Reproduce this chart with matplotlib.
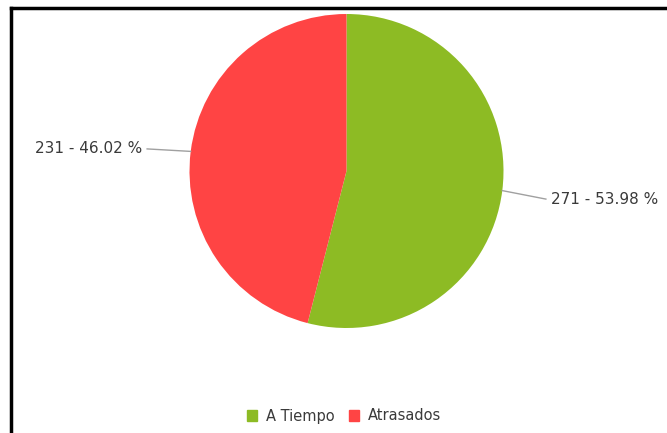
import matplotlib.pyplot as plt
from matplotlib.lines import Line2D
import numpy as np

categories = ["A Tiempo", "Atrasados"]
counts = [271, 231]
colors = ["#8dbb24", "#ff4444"]

W, H = 667, 433
fig = plt.figure(figsize=(W / 100, H / 100), dpi=100)
fig.patch.set_facecolor("white")

# axes in pixel units, y counted upward so the pie keeps its clockwise order
ax = fig.add_axes([0, 0, 1, 1])
ax.set_aspect("equal")

cx, cy, r = 346.5, H - 171, 157
wedges, _ = ax.pie(counts, colors=colors, startangle=90, counterclock=False,
                   center=(cx, cy), radius=r, frame=True,
                   wedgeprops=dict(linewidth=0))
ax.set_xlim(0, W)
ax.set_ylim(0, H)
ax.axis("off")

total = sum(counts)
for w, n in zip(wedges, counts):
    mid = np.deg2rad((w.theta1 + w.theta2) / 2)
    ca, sa = np.cos(mid), np.sin(mid)
    x0, y0 = cx + r * ca, cy + r * sa
    x1, y1 = cx + 1.28 * r * ca, cy + 1.28 * r * sa - 3
    ax.plot([x0, x1], [y0, y1], color="#a0a0a0", lw=1)
    label = f"{n} - {n / total * 100:.2f} %"
    side = -1 if ca < 0 else 1
    ax.text(x1 + 5 * side, y1, label, ha="right" if side < 0 else "left",
            va="center", fontsize=11, color="#3a3a3a")

leg = fig.legend(handles=[plt.Rectangle((0, 0), 1, 1, color=c) for c in colors],
                 labels=categories, loc="center", bbox_to_anchor=(344 / W, 1 - 416 / H),
                 ncol=2, frameon=False, fontsize=10.5, handlelength=0.7,
                 handleheight=0.7, handletextpad=0.6, columnspacing=1.0)
for t in leg.get_texts():
    t.set_color("#3a3a3a")

# frame lines on the top and left edges
fig.add_artist(Line2D([11 / W, 1], [1 - 8 / H, 1 - 8 / H], color="black", lw=2.5,
                      transform=fig.transFigure))
fig.add_artist(Line2D([11 / W, 11 / W], [0, 1 - 8 / H], color="black", lw=2.5,
                      transform=fig.transFigure))

fig.savefig("out.png", dpi=100)
